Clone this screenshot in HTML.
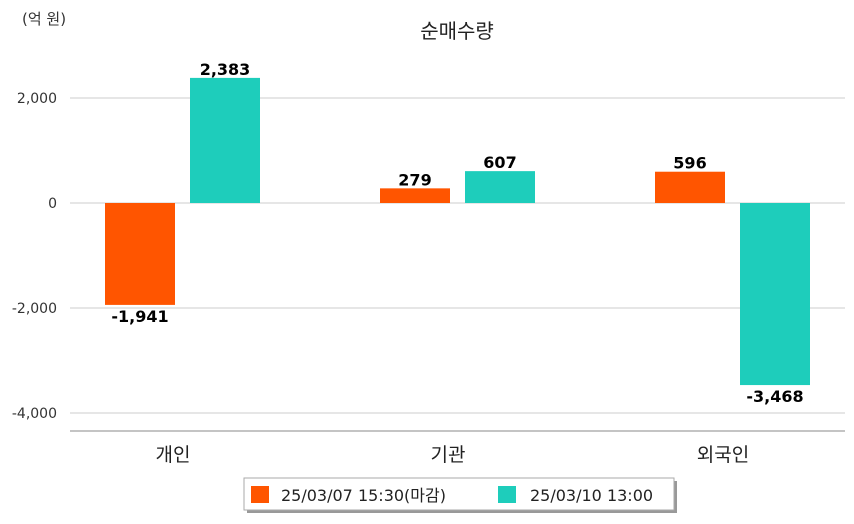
<!DOCTYPE html>
<html><head><meta charset="utf-8"><style>
body{margin:0;background:#fff;font-family:"DejaVu Sans","Noto Sans CJK KR",sans-serif;}
</style></head><body>
<svg width="854" height="520" xmlns="http://www.w3.org/2000/svg" font-family="DejaVu Sans, Noto Sans CJK KR, sans-serif">
<text x="22" y="24" font-size="15" fill="#333">(억 원)</text>
<text x="457" y="38" font-size="20" fill="#222" text-anchor="middle">순매수량</text>
<g id="grid"></g>
<g id="bars"></g>
<line x1="70" y1="431" x2="845" y2="431" stroke="#888" stroke-width="1"/>
<g>
<rect x="247" y="481" width="430" height="32" fill="#999"/>
<rect x="244" y="478" width="430" height="32" fill="#fff" stroke="#aaa"/>
<rect x="251" y="486" width="18" height="17" fill="#ff5500"/>
<text x="281" y="501" font-size="16" fill="#222">25/03/07 15:30(마감)</text>
<rect x="498" y="486" width="18" height="17" fill="#1ecdbb"/>
<text x="530" y="501" font-size="16" fill="#222">25/03/10 13:00</text>
</g>
</svg>
<script>
const categories=["개인","기관","외국인"];
const series1=[-1941,279,596];
const series2=[2383,607,-3468];
const ticks=[2000,0,-2000,-4000];
const NS="http://www.w3.org/2000/svg";
const y=v=>203-v*105/2000;
const x0=i=>70+i*275;
function mk(t,a,p){const e=document.createElementNS(NS,t);for(const k in a)e.setAttribute(k,a[k]);p.appendChild(e);return e;}
const grid=document.getElementById('grid'),bars=document.getElementById('bars');
ticks.forEach(t=>{
 const l=mk('line',{x1:70,x2:845,y1:y(t),y2:y(t),stroke:'#ccc','stroke-width':1},grid);
 
 
 const tx=mk('text',{x:57,y:y(t)+5,'font-size':14,fill:'#333','text-anchor':'end'},grid);
 tx.textContent=t.toLocaleString('en-US');
 
 
});
categories.forEach((c,i)=>{
 const ct=mk('text',{x:x0(i)+103,y:461,'font-size':19,fill:'#222','text-anchor':'middle'},bars);
 ct.textContent=c;
 
 
 [[series1,'#ff5500',35],[series2,'#1ecdbb',120]].forEach(([s,col,off])=>{
  const v=s[i];const top=Math.min(y(v),y(0));const h=Math.abs(y(v)-y(0));
  const r=mk('rect',{x:x0(i)+off,y:top,width:70,height:h,fill:col},bars);
  
  
  const lt=mk('text',{x:x0(i)+off+35,y:v>=0?y(v)-3:y(v)+17,'font-size':16,'font-weight':'bold',fill:'#000','text-anchor':'middle'},bars);
  lt.textContent=v.toLocaleString('en-US');
  
  
 });
});
</script>
</body></html>
